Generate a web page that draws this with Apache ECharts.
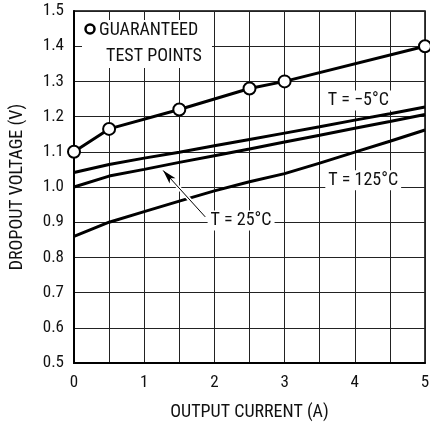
<!DOCTYPE html>
<html>
<head>
<meta charset="utf-8">
<script src="https://cdn.jsdelivr.net/npm/echarts@6/dist/echarts.min.js"></script>
<style>
  html, body { margin: 0; padding: 0; background: #fff; }
  #chart { width: 430px; height: 423px; }
</style>
</head>
<body>
<div id="chart"></div>
<script>
// 数据：输出电流 (A) -> 压差 (V)
const currents = [0, 0.5, 1, 1.5, 2, 2.5, 3, 3.5, 4, 4.5, 5]
const vMinus5 = [1.041, 1.064, 1.082, 1.099, 1.117, 1.135, 1.153, 1.171, 1.190, 1.208, 1.227]
const v25 = [1.000, 1.031, 1.050, 1.070, 1.089, 1.108, 1.128, 1.147, 1.167, 1.186, 1.206]
const v125 = [0.860, 0.900, 0.930, 0.960, 0.989, 1.015, 1.038, 1.068, 1.099, 1.130, 1.162]
const testX = [0, 0.5, 1.5, 2.5, 3, 5]
const testV = [1.10, 1.165, 1.22, 1.28, 1.30, 1.40]
const yTicks = [0.5, 0.6, 0.7, 0.8, 0.9, 1.0, 1.1, 1.2, 1.3, 1.4, 1.5]

const font = '"Roboto Condensed", "DejaVu Sans Condensed", sans-serif'
const ink = '#111'

const pairs = (xs, ys) => xs.map((x, i) => [x, ys[i]])

// 曲线标注（文字带白底）
const tag = (text, coord) => ({
  symbol: 'rect',
  symbolSize: 0,
  data: [{ coord: coord }],
  label: {
    show: true,
    position: 'inside',
    formatter: text,
    color: ink,
    fontFamily: font,
    fontSize: 18,
    backgroundColor: '#fff',
    padding: [1, 3]
  }
})

const chart = echarts.init(document.getElementById('chart'))
chart.setOption({
  animation: false,
  grid: {
    left: 74,
    right: 5,
    top: 11,
    bottom: 60,
    outerBoundsMode: 'none',
    containLabel: false,
    show: true,
    borderColor: '#000',
    borderWidth: 1.5
  },
  xAxis: {
    type: 'value',
    min: 0,
    max: 5,
    interval: 0.5,
    name: 'OUTPUT CURRENT (A)',
    nameLocation: 'middle',
    nameGap: 40,
    nameTextStyle: { color: ink, fontFamily: font, fontSize: 18 },
    axisLine: { lineStyle: { color: '#000', width: 2 } },
    axisTick: { show: false },
    axisLabel: {
      color: ink,
      fontFamily: font,
      fontSize: 17,
      margin: 11,
      formatter: v => (Number.isInteger(v) ? String(v) : '')
    },
    splitLine: { lineStyle: { color: '#222', width: 1 } }
  },
  yAxis: {
    type: 'value',
    min: 0.5,
    max: 1.5,
    interval: 0.1,
    name: 'DROPOUT VOLTAGE (V)',
    nameLocation: 'middle',
    nameGap: 48,
    nameTextStyle: { color: ink, fontFamily: font, fontSize: 18 },
    axisLine: { lineStyle: { color: '#000', width: 2 } },
    axisTick: { show: false },
    axisLabel: {
      color: ink,
      fontFamily: font,
      fontSize: 17,
      margin: 10,
      formatter: v => {
        const t = yTicks.find(k => Math.abs(k - v) < 1e-6)
        return t === undefined ? '' : t.toFixed(1)
      }
    },
    splitLine: { lineStyle: { color: '#222', width: 1 } }
  },
  series: [
    {
      name: 'T = −5°C',
      type: 'line',
      data: pairs(currents, vMinus5),
      showSymbol: false,
      lineStyle: { color: '#000', width: 3 },
      markPoint: tag('T = −5°C', [4.05, 1.246])
    },
    {
      name: 'T = 25°C',
      type: 'line',
      data: pairs(currents, v25),
      showSymbol: false,
      lineStyle: { color: '#000', width: 3 },
      markPoint: tag('T = 25°C', [2.38, 0.905]),
      markLine: {
        silent: true,
        label: { show: false },
        data: [
          [
            { coord: [1.87, 0.915], symbol: 'none', lineStyle: { color: '#fff', width: 4, type: 'solid' } },
            { coord: [1.30, 1.040], symbol: 'none' }
          ],
          [
            { coord: [1.87, 0.915], symbol: 'none', lineStyle: { color: '#000', width: 1, type: 'solid' } },
            { coord: [1.27, 1.047], symbol: 'arrow', symbolSize: [6, 14] }
          ]
        ]
      }
    },
    {
      name: 'T = 125°C',
      type: 'line',
      data: pairs(currents, v125),
      showSymbol: false,
      lineStyle: { color: '#000', width: 3 },
      markPoint: tag('T = 125°C', [4.12, 1.019])
    },
    {
      name: 'GUARANTEED TEST POINTS',
      type: 'line',
      data: pairs(testX, testV),
      symbol: 'circle',
      symbolSize: 12,
      showSymbol: true,
      lineStyle: { color: '#000', width: 3 },
      itemStyle: { color: '#fff', borderColor: '#000', borderWidth: 2 },
      z: 5
    }
  ],
  graphic: [
    {
      type: 'group',
      left: 82,
      top: 20,
      z: 50,
      children: [
        { type: 'rect', z: 50, shape: { x: 0, y: 0, width: 130, height: 48 }, style: { fill: '#fff' } },
        { type: 'circle', z: 51, shape: { cx: 8, cy: 9, r: 4.5 }, style: { fill: '#fff', stroke: '#000', lineWidth: 2.5 } },
        {
          type: 'text',
          z: 51,
          x: 17,
          y: 10,
          style: { text: 'GUARANTEED', fill: ink, font: '18px ' + font, textVerticalAlign: 'middle' }
        },
        {
          type: 'text',
          z: 51,
          x: 72,
          y: 36,
          style: { text: 'TEST POINTS', fill: ink, font: '18px ' + font, textAlign: 'center', textVerticalAlign: 'middle' }
        }
      ]
    }
  ]
})
</script>
</body>
</html>
